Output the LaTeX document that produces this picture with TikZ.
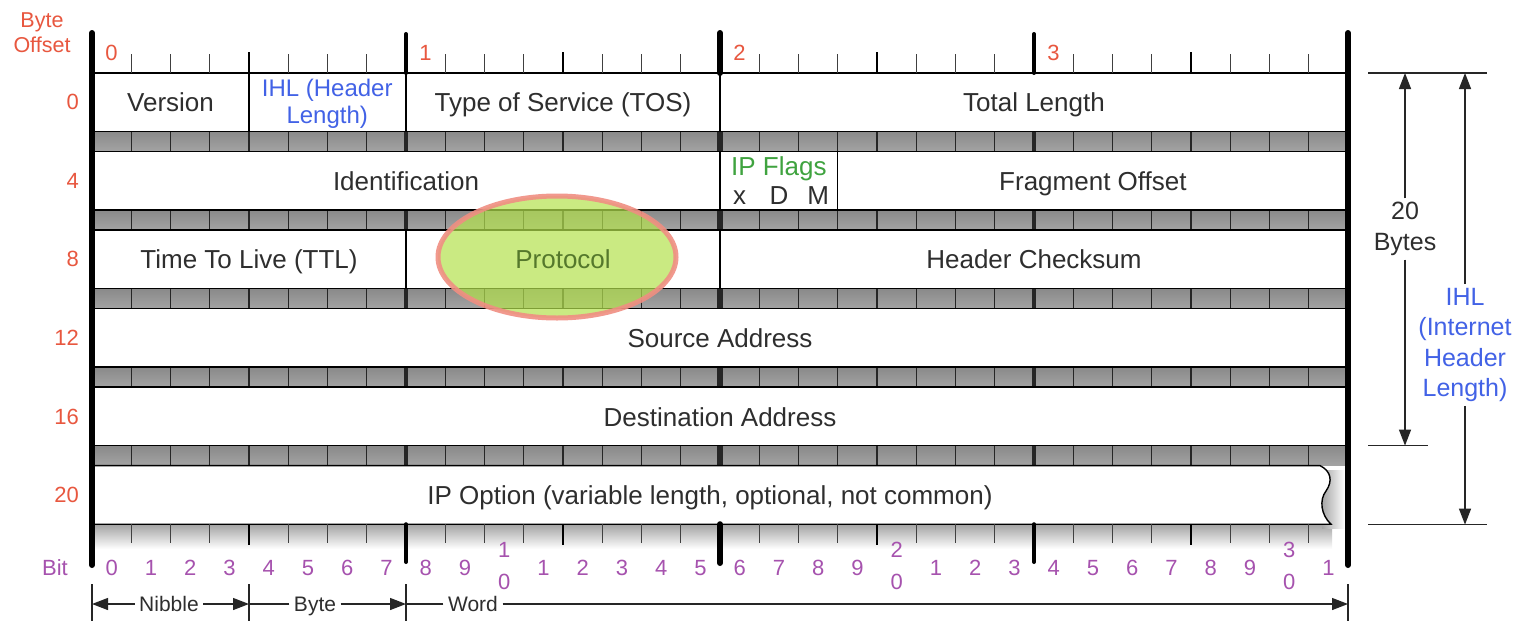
\documentclass[tikz,border=0pt]{standalone}
\usepackage{fontspec}
\setmainfont{Liberation Sans}
\usetikzlibrary{arrows.meta}
\definecolor{offred}{HTML}{E8573F}
\definecolor{ihlblue}{HTML}{4262E6}
\definecolor{flaggreen}{HTML}{3FA33F}
\definecolor{bitpurple}{HTML}{A652AE}
\definecolor{txtgray}{HTML}{2E2E2E}
\definecolor{protofill}{HTML}{B4E24E}
\definecolor{protoring}{HTML}{F08E82}
\definecolor{prototext}{HTML}{55782C}
\begin{document}
\begin{tikzpicture}[x=1pt,y=-1pt,
  txt/.style={text=txtgray,font=\fontsize{26}{30}\selectfont,inner sep=0pt,text height=18.6pt,text depth=0pt},
  bitnum/.style={text=bitpurple,font=\fontsize{22}{25}\selectfont,inner sep=0pt,text height=15.8pt,text depth=0pt},
  offnum/.style={text=offred,font=\fontsize{22}{25}\selectfont,inner sep=0pt,text height=15.8pt,text depth=0pt},
  rowbox/.style={draw=black,line width=1.4pt,fill=white},
  fieldsep/.style={draw=black,line width=1.3pt},
  dimline/.style={draw=black!85,line width=1.3pt},
  dimarrow/.style={dimline,-{Triangle[length=16pt,width=12pt]}},
  dimtxt/.style={text=txtgray,font=\fontsize{25}{30.4}\selectfont,align=center,inner sep=4pt},
  dimlbl/.style={text=txtgray,font=\fontsize{21}{24}\selectfont,inner ysep=0pt,inner xsep=4.5pt,text height=15pt,text depth=0pt}]
\fill[white] (0,0) rectangle (1528,621);
\useasboundingbox (0,0) rectangle (1528,621);

% gray bit strips between the header words
\foreach \k in {0,...,4} {
  \pgfmathsetmacro\ya{131.6+78.6*\k}
  \pgfmathsetmacro\yb{\ya+19.6}
  \shade[top color=black!46,middle color=black!15,bottom color=black!36] (92,\ya) rectangle (1348,\yb);
  \foreach \i in {1,...,31} {
    \pgfmathsetmacro\xx{92+39.25*\i}
    \pgfmathtruncatemacro\mb{mod(\i,8)}
    \pgfmathtruncatemacro\mn{mod(\i,4)}
    \ifnum\i=16 \def\tw{6}\else\ifnum\mb=0 \def\tw{4.2}\else\ifnum\mn=0 \def\tw{2.4}\else\def\tw{1.2}\fi\fi\fi
    \draw[line width=\tw pt,black!85] (\xx,\ya) -- (\xx,\yb);
  }
}

% header words
\draw[rowbox] (92,73) rectangle (1348,131.6);
\draw[rowbox] (92,151.2) rectangle (1348,209.8);
\draw[rowbox] (92,229.8) rectangle (1348,288.4);
\draw[rowbox] (92,308.4) rectangle (1348,367);
\draw[rowbox] (92,387) rectangle (1348,445.6);

% field borders inside the words
\draw[fieldsep] (249,73) -- (249,131.6);
\draw[fieldsep] (406,73) -- (406,131.6);
\draw[fieldsep] (720,73) -- (720,131.6);
\draw[fieldsep] (720,151.2) -- (720,209.8);
\draw[fieldsep] (837.75,151.2) -- (837.75,209.8);
\draw[fieldsep] (406,229.8) -- (406,288.4);
\draw[fieldsep] (720,229.8) -- (720,288.4);

% shadow under the options word
\shade[top color=black!36,bottom color=white] (92,524.2) rectangle (1332,549);
\shade[left color=black!35,right color=white] (1322,470) rectangle (1345,528);

% options word with torn right edge
\draw[rowbox] (92,465.6) -- (1320,465.6)
  .. controls (1331,471) and (1333,481) .. (1326,491)
  .. controls (1319,500) and (1321,515) .. (1331,524.2)
  -- (92,524.2) -- cycle;

% bottom bit ticks
\foreach \i in {1,...,31} {
  \pgfmathsetmacro\xx{92+39.25*\i}
  \pgfmathtruncatemacro\mb{mod(\i,8)}
  \pgfmathtruncatemacro\mn{mod(\i,4)}
  \ifnum\i=16
    \draw[line width=6pt,line cap=round] (\xx,524.2) -- (\xx,563);
  \else\ifnum\mb=0
    \draw[line width=4pt,line cap=round] (\xx,524.2) -- (\xx,562);
  \else\ifnum\mn=0
    \draw[line width=2.6pt] (\xx,524.2) -- (\xx,545);
  \else
    \draw[line width=1.2pt,black!75] (\xx,524.2) -- (\xx,543);
  \fi\fi\fi
}

% top bit ticks
\foreach \i in {1,...,31} {
  \pgfmathsetmacro\xx{92+39.25*\i}
  \pgfmathtruncatemacro\mb{mod(\i,8)}
  \pgfmathtruncatemacro\mn{mod(\i,4)}
  \ifnum\i=16
    \draw[line width=6pt,line cap=round] (\xx,33) -- (\xx,73);
  \else\ifnum\mb=0
    \draw[line width=4pt,line cap=round] (\xx,34) -- (\xx,73);
  \else\ifnum\mn=0
    \draw[line width=2.6pt] (\xx,52) -- (\xx,73);
  \else
    \draw[line width=1.2pt,black!75] (\xx,54) -- (\xx,73);
  \fi\fi\fi
}

% outer bars
\draw[line width=6pt,line cap=round] (92,33) -- (92,565);
\draw[line width=6pt,line cap=round] (1348,33) -- (1348,565);

% byte numbers on top
\node[offnum] (byte0) at (111.6,53) {0};
\node[offnum] (byte1) at (425.6,53) {1};
\node[offnum] (byte2) at (739.6,53) {2};
\node[offnum] (byte3) at (1053.6,53) {3};

% byte offsets on the left
\node[text=offred,font=\fontsize{21.5}{25}\selectfont,align=center,inner sep=0pt] (offhead) at (42,33) {Byte\\Offset};
\node[offnum,anchor=east] (off0) at (79,102) {0};
\node[offnum,anchor=east] (off4) at (79,181) {4};
\node[offnum,anchor=east] (off8) at (79,259) {8};
\node[offnum,anchor=east] (off12) at (79,338) {12};
\node[offnum,anchor=east] (off16) at (79,417) {16};
\node[offnum,anchor=east] (off20) at (79,495) {20};

% field names
\node[txt] (version) at (170.5,102) {Version};
\node[text=ihlblue,font=\fontsize{24}{27}\selectfont,align=center,inner sep=0pt] (ihl) at (327.25,104) {IHL (Header\\Length)};
\node[txt] (tos) at (563,102) {Type of Service (TOS)};
\node[txt] (totlen) at (1034,102) {Total Length};
\node[txt] (ident) at (406,181) {Identification};
\node[txt,text=flaggreen] (flags) at (778.9,166) {IP Flags};
\node[txt] (flagx) at (739.6,195) {x};
\node[txt] (flagd) at (778.9,195) {D};
\node[txt] (flagm) at (818.1,195) {M};
\node[txt] (fragoff) at (1092.9,181) {Fragment Offset};
\node[txt] (ttl) at (249,259) {Time To Live (TTL)};
\node[txt] (chksum) at (1034,259) {Header Checksum};
\node[txt] (srcaddr) at (720,338) {Source Address};
\node[txt] (dstaddr) at (720,417) {Destination Address};
\node[txt] (ipopt) at (710,495) {IP Option (variable length, optional, not common)};

% highlight on the protocol field
\draw[draw=protoring,line width=5pt,fill=protofill,fill opacity=0.7,draw opacity=0.9] (557,257) ellipse [x radius=119,y radius=61];
\node[txt,text=prototext] (proto) at (563,259) {Protocol};

% bit numbers
\node[bitnum,anchor=east] (bithead) at (68,568) {Bit};
\foreach \i in {0,...,31} {
  \pgfmathsetmacro\xc{92+39.25*(\i+0.5)}
  \pgfmathtruncatemacro\unit{mod(\i,10)}
  \pgfmathtruncatemacro\tens{\i/10}
  \ifnum\unit=0
    \ifnum\i=0
      \node[bitnum] (bit\i) at (\xc,568) {0};
    \else
      \node[bitnum] (bit\i a) at (\xc,550) {\tens};
      \node[bitnum] (bit\i b) at (\xc,582) {0};
    \fi
  \else
    \node[bitnum] (bit\i) at (\xc,568) {\unit};
  \fi
}

% nibble / byte / word dimensions
\coordinate (dA) at (92,604);
\coordinate (dB) at (249,604);
\coordinate (dC) at (406,604);
\coordinate (dD) at (1348,604);
\draw[dimline] (92,584) -- (92,621);
\draw[dimline] (249,584) -- (249,621);
\draw[dimline] (406,584) -- (406,621);
\draw[dimline] (1348,584) -- (1348,621);
\node[dimlbl] (nib) at (169,604) {Nibble};
\node[dimlbl] (byt) at (315,604) {Byte};
\node[dimlbl] (wrd) at (473,604) {Word};
\draw[dimarrow] (nib.west) -- (dA);
\draw[dimarrow] (nib.east) -- (dB);
\draw[dimline] (byt.west) -- (dB);
\draw[dimarrow] (byt.east) -- (dC);
\draw[dimline] (wrd.west) -- (dC);
\draw[dimarrow] (wrd.east) -- (dD);

% header length dimensions on the right
\draw[dimline] (1368,73) -- (1487,73);
\draw[dimline] (1368,445.6) -- (1428,445.6);
\draw[dimline] (1368,524.6) -- (1487,524.6);
\coordinate (bytesTop) at (1405,73);
\coordinate (bytesBot) at (1405,445.6);
\coordinate (ihlTop) at (1465,73);
\coordinate (ihlBot) at (1465,524.6);
\node[dimtxt] (bytesLbl) at (1405,229) {20\\Bytes};
\node[dimtxt,text=ihlblue] (ihlLbl) at (1465,345) {IHL\\(Internet\\Header\\Length)};
\draw[dimarrow] (bytesLbl.north) -- (bytesTop);
\draw[dimarrow] (bytesLbl.south) -- (bytesBot);
\draw[dimarrow] (ihlLbl.north) -- (ihlTop);
\draw[dimarrow] (ihlLbl.south) -- (ihlBot);
\end{tikzpicture}
\end{document}
